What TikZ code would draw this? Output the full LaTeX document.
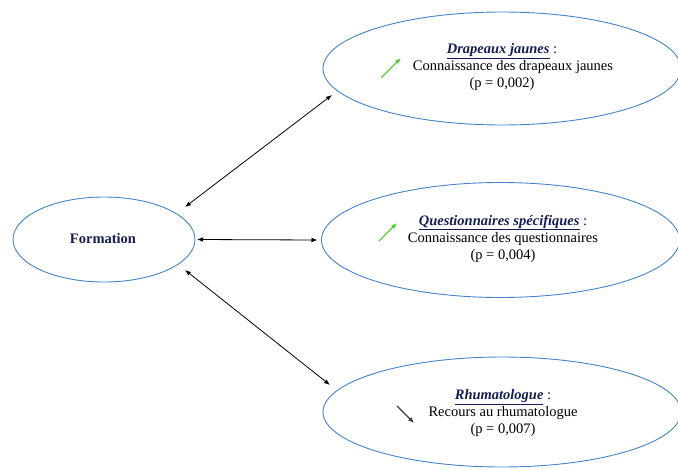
\documentclass[tikz,border=0pt]{standalone}
\usepackage{fontspec}
\setmainfont{Liberation Serif}
\usetikzlibrary{shapes.geometric,arrows.meta}
\definecolor{ellblue}{RGB}{70,130,200}
\definecolor{navy}{RGB}{20,30,85}
\definecolor{upgreen}{RGB}{90,205,60}
\definecolor{downgray}{RGB}{60,60,60}
\begin{document}
\begin{tikzpicture}[x=1pt,y=-1pt,
  oval/.style={draw=ellblue,line width=0.9pt,ellipse,inner sep=0pt,outer sep=0pt},
  txt/.style={font=\fontsize{14.5}{17}\selectfont,align=center,inner sep=0pt},
  ttl/.style={text=navy},
  link/.style={{Latex[length=6pt,width=4.5pt]}-{Latex[length=6pt,width=4.5pt]},line width=0.8pt,black},
  trend/.style={-{Latex[length=6pt,width=5pt]},line width=1.3pt}]
\useasboundingbox (0,0) rectangle (678,469);
% ellipses
\node[oval,minimum width=182pt,minimum height=85pt] (form) at (104,239.5) {};
\node[oval,minimum width=358pt,minimum height=113pt] (top) at (502,68.5) {};
\node[oval,minimum width=358pt,minimum height=115pt] (mid) at (500.5,240) {};
\node[oval,minimum width=358pt,minimum height=110pt] (bot) at (502,412) {};
% texts
\node[txt,font=\fontsize{14.5}{17}\selectfont\bfseries,text=navy] (formt) at (103,239) {Formation};
\node[txt] (topt) at (502,67) {\textcolor{navy}{\underline{\textbf{\textit{Drapeaux jaunes}}}} :\\
  \hspace*{22pt}Connaissance des drapeaux jaunes\\(p = 0,002)};
\node[txt] (midt) at (503,238.5) {\textcolor{navy}{\underline{\textbf{\textit{Questionnaires spécifiques}}}} :\\
  Connaissance des questionnaires\\(p = 0,004)};
\node[txt] (bott) at (503,413) {\textcolor{navy}{\underline{\textbf{\textit{Rhumatologue}}}} :\\
  Recours au rhumatologue\\(p = 0,007)};
% trend arrows
\draw[trend,upgreen] ([shift={(-121,11)}]topt.center) -- ([shift={(-101,-9)}]topt.center);
\draw[trend,upgreen] ([shift={(-124,2.5)}]midt.center) -- ([shift={(-106,-15.5)}]midt.center);
\draw[trend,downgray] ([shift={(-106,-7)}]bott.center) -- ([shift={(-89,10)}]bott.center);
% connectors
\draw[link] ([shift={(81,-32.5)}]form.center) -- ([shift={(-170,26.5)}]top.center);
\draw[link] ([xshift=2pt]form.east) -- ([xshift=-4pt]mid.west);
\draw[link] ([shift={(81,30.5)}]form.center) -- ([shift={(-172,-27)}]bot.center);
\end{tikzpicture}
\end{document}
